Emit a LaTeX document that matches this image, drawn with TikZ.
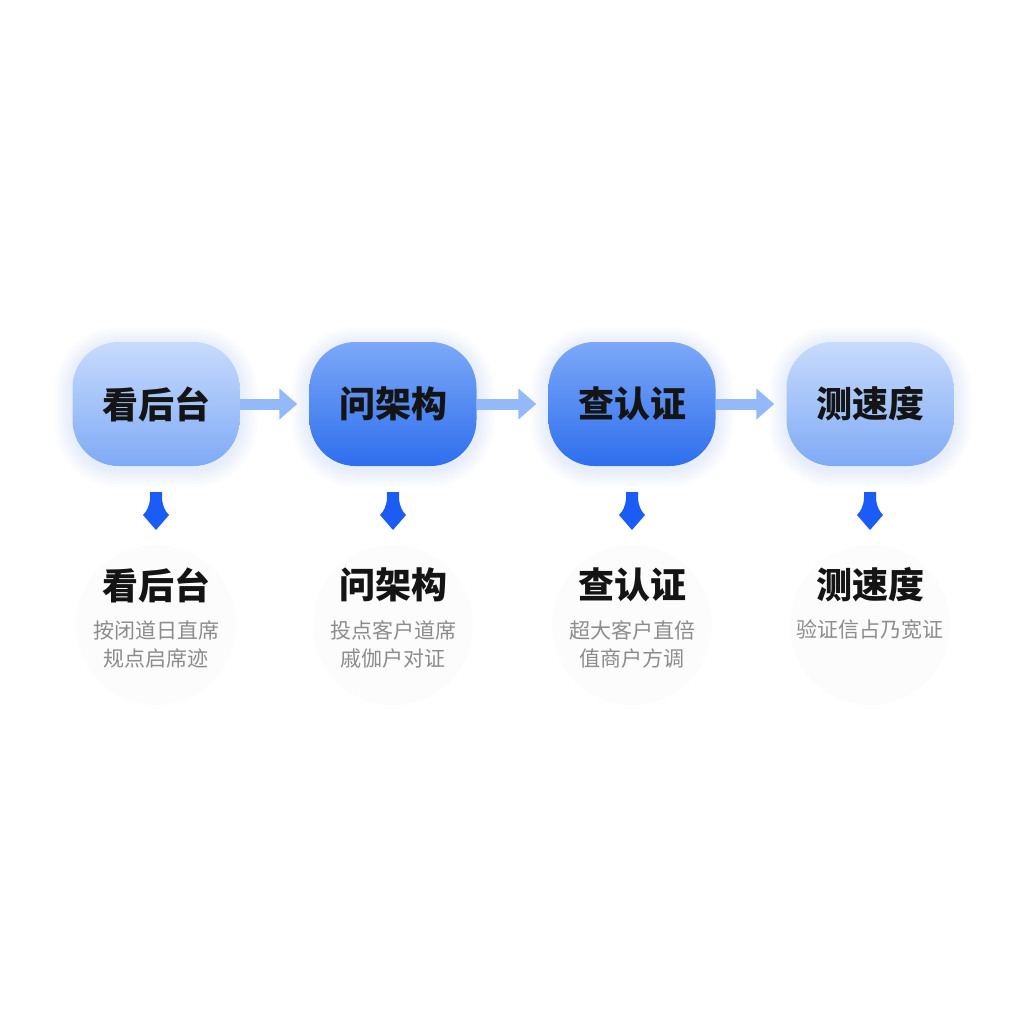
\documentclass[tikz,border=0pt]{standalone}
\usepackage{fontspec}
\setmainfont{Noto Sans CJK SC}
\usetikzlibrary{arrows.meta}
\definecolor{lt}{HTML}{C8DBFC}
\definecolor{lb}{HTML}{7FAAF6}
\definecolor{dt}{HTML}{7CA8F7}
\definecolor{db}{HTML}{2E6FEE}
\definecolor{arr}{HTML}{94B9F8}
\definecolor{dblue}{HTML}{1A5CF5}
\definecolor{subg}{HTML}{8C8C8C}
\definecolor{glow}{HTML}{6F9CF5}
\definecolor{backd}{HTML}{FCFCFD}
\tikzset{
  stepbox/.style={rounded corners=46pt, minimum width=167pt, minimum height=124pt,
    font=\fontsize{36}{42}\selectfont\bfseries, text=black!92},
  lightbox/.style={stepbox, top color=lt, bottom color=lb},
  darkbox/.style={stepbox, top color=dt, bottom color=db},
  flow/.style={draw=arr, line width=11pt, -{Triangle[length=18pt,width=30pt]}, shorten >=12pt},
  title/.style={font=\fontsize{36}{42}\selectfont\bfseries, text=black!92},
  sub/.style={font=\fontsize{21}{28}\selectfont, text=subg, align=center},
  dmark/.pic={\fill[dblue] (-6,0) -- (6,0) -- (6,6) .. controls (6.5,14) and (9,19) .. (13,23) -- (0,38) -- (-13,23) .. controls (-9,19) and (-6.5,14) .. (-6,6) -- cycle;}
}
\begin{document}
\begin{tikzpicture}[x=1pt,y=-1pt]
\useasboundingbox[fill=white] (0,0) rectangle (1024,1024);
% faint backdrops of the text columns
\foreach \cx in {156,393,632,870}
  \fill[backd] (\cx,625) circle (80);
% glow behind the boxes
\foreach \cx in {156,393,632,870}
  \foreach \g in {3,6,...,18}
    \fill[glow, opacity=0.025, rounded corners={46pt+\g pt}]
      (\cx-83.5-\g,342-\g+3) rectangle (\cx+83.5+\g,466+\g+3);
% boxes
\node[lightbox] (b1) at (156,404) {看后台};
\node[darkbox]  (b2) at (393,404) {问架构};
\node[darkbox]  (b3) at (632,404) {查认证};
\node[lightbox] (b4) at (870,404) {测速度};
% flow arrows
\draw[flow] (b1.east) -- (b2.west);
\draw[flow] (b2.east) -- (b3.west);
\draw[flow] (b3.east) -- (b4.west);
% down marks
\foreach \cx in {156,393,632,870}
  \pic at (\cx,492) {dmark};
% titles and descriptions
\node[title] (t1) at (156,585) {看后台};
\node[title] (t2) at (393,585) {问架构};
\node[title] (t3) at (632,585) {查认证};
\node[title] (t4) at (870,585) {测速度};
\node[sub] (s1) at (156,644) {按闭道日直席\\规点启席迹};
\node[sub] (s2) at (393,644) {投点客户道席\\戚伽户对证};
\node[sub] (s3) at (632,644) {超大客户直倍\\值商户方调};
\node[sub] (s4) at (870,630) {验证信占乃宽证};
\end{tikzpicture}
\end{document}
